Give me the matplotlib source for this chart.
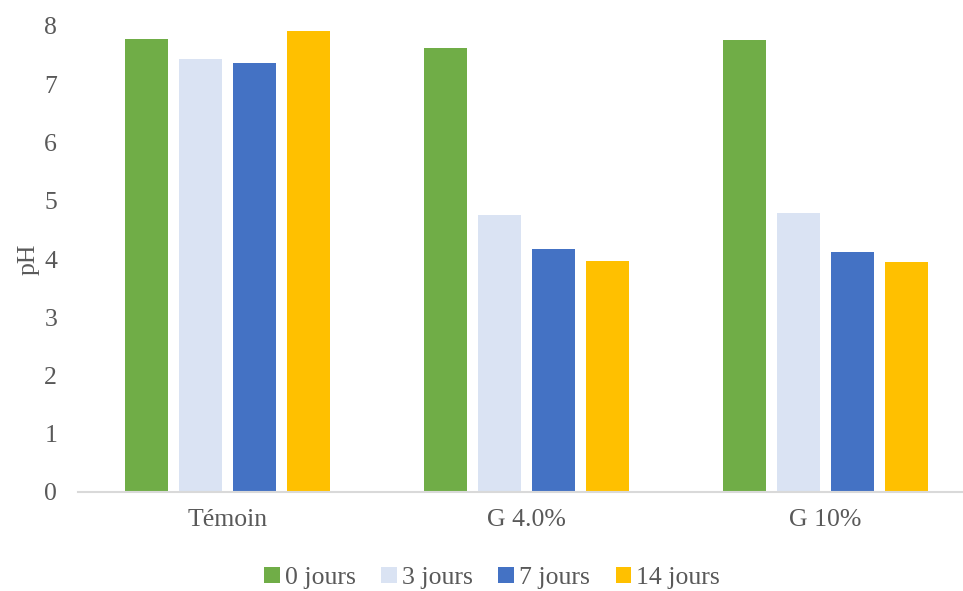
import numpy as np
import matplotlib.pyplot as plt

plt.rcParams['font.family'] = ['Liberation Serif', 'DejaVu Serif']

categories = ['Témoin', 'G 4.0%', 'G 10%']
series = ['0 jours', '3 jours', '7 jours', '14 jours']
ph_0 = [7.78, 7.62, 7.76]
ph_3 = [7.43, 4.76, 4.79]
ph_7 = [7.36, 4.17, 4.12]
ph_14 = [7.91, 3.97, 3.95]
colours = ['#70ad47', '#dae3f3', '#4472c4', '#ffc000']

txt = '#595959'
fs = 18.5
fig = plt.figure(figsize=(9.63, 5.91), dpi=100)
ax = fig.add_axes([78/963, 1-492/591, 897/963, 466/591])

x = np.arange(len(categories))
w = 43/299
step = 54.3/299
for i, (vals, lab) in enumerate(zip([ph_0, ph_3, ph_7, ph_14], series)):
	ax.bar(x + (i-1.5)*step, vals, width=w, color=colours[i], label=lab, zorder=2)

ax.set_xlim(-0.5, 2.5)
ax.set_ylim(0, 8)
ax.set_yticks(range(9))
ax.set_xticks(x)
ax.set_xticklabels(categories)
for s in ['top', 'right', 'left']:
	ax.spines[s].set_visible(False)
ax.spines['bottom'].set_color('#d9d9d9')
ax.spines['bottom'].set_linewidth(1.5)
ax.tick_params(axis='both', length=0, labelsize=fs, colors=txt)
ax.tick_params(axis='y', pad=15)
ax.tick_params(axis='x', pad=12)
ax.set_ylabel('pH', fontsize=fs, color=txt)
ax.yaxis.set_label_coords(-38/897, 0.5)

leg = fig.legend(loc='center', bbox_to_anchor=(492/963, 1-578/591), ncol=4, frameon=False,
	fontsize=fs, handlelength=0.6, handleheight=0.6, handletextpad=0.2, columnspacing=1.0)
for t in leg.get_texts():
	t.set_color(txt)

fig.savefig('out.png', dpi=100)
